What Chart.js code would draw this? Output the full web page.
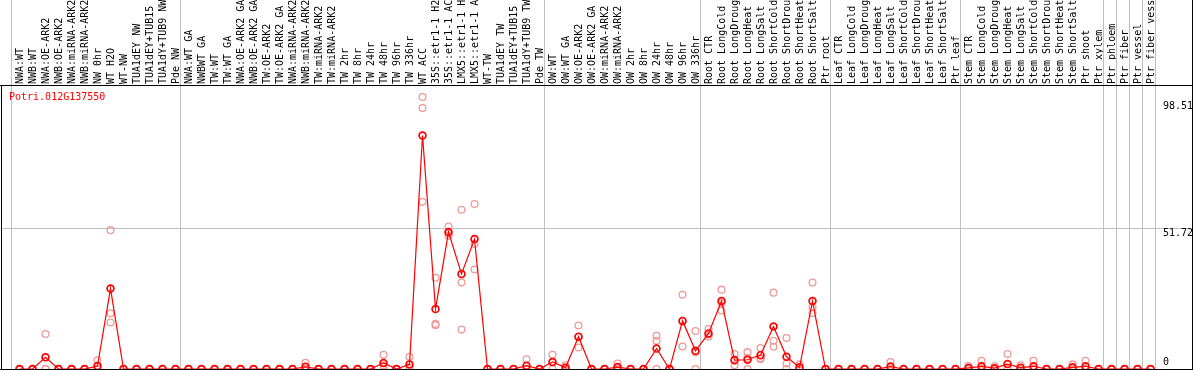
<!DOCTYPE html>
<html>
<head>
<meta charset="utf-8">
<script src="https://cdn.jsdelivr.net/npm/chart.js@4.4.1/dist/chart.umd.min.js"></script>
<style>
  html, body { margin:0; padding:0; background:#fff; }
  canvas { display:block; }
</style>
</head>
<body>
<canvas id="chart" width="1194" height="370"></canvas>
<script>
/* ---------- data ---------- */

const geneId = "Potri.012G137550";

const samples = [
  "NWA:WT","NWB:WT","NWA:OE-ARK2","NWB:OE-ARK2","NWA:miRNA-ARK2","NWB:miRNA-ARK2","NW 0hr","WT H2O","WT-NW","TUA1dEY NW","TUA1dEY+TUB15 NW","TUA1dY+TUB9 NW","Pde NW",
  "NWA:WT GA","NWBWT GA","TW:WT","TW:WT GA","NWA:OE-ARK2 GA","NWB:OE-ARK2 GA","TW:OE-ARK2","TW:OE-ARK2 GA","NWA:miRNA-ARK2","NWB:miRNA-ARK2","TW:miRNA-ARK2","TW:miRNA-ARK2","TW 2hr","TW 8hr","TW 24hr","TW 48hr","TW 96hr","TW 336hr","WT ACC","35S::etr1-1 H2O","35S::etr1-1 ACC","LMX5::etr1-1 H2O","LMX5::etr1-1 ACC","WT-TW","TUA1dEY TW","TUA1dEY+TUB15 TW","TUA1dY+TUB9 TW","Pde TW",
  "OW:WT","OW:WT GA","OW:OE-ARK2","OW:OE-ARK2 GA","OW:miRNA-ARK2","OW:miRNA-ARK2","OW 2hr","OW 8hr","OW 24hr","OW 48hr","OW 96hr","OW 336hr",
  "Root CTR","Root LongCold","Root LongDrought","Root LongHeat","Root LongSalt","Root ShortCold","Root ShortDrought","Root ShortHeat","Root ShortSalt","Ptr root",
  "Leaf CTR","Leaf LongCold","Leaf LongDrought","Leaf LongHeat","Leaf LongSalt","Leaf ShortCold","Leaf ShortDrought","Leaf ShortHeat","Leaf ShortSalt","Ptr leaf",
  "Stem CTR","Stem LongCold","Stem LongDrought","Stem LongHeat","Stem LongSalt","Stem ShortCold","Stem ShortDrought","Stem ShortHeat","Stem ShortSalt","Ptr shoot","Ptr xylem",
  "Ptr phloem","Ptr fiber","Ptr vessel","Ptr fiber vessel"
];

// index of first sample in each group (last one = end)
const groupStarts = [0, 13, 41, 53, 63, 73, 84, 85, 86, 87, 88];

const yTicks = [0, 51.72, 98.51];

const means = [
  0,0,4.3,0,0,0,1.1,29.6,0,0,0,0,0,
  0,0,0,0,0,0,0,0,
  0,0.8,0,0,0,0,0,2.2,0,1.7,
  85.9,22.1,50.4,35.0,47.8,0,0,0,1.2,0,
  2.6,0.5,11.9,0,0,0.7,0,0,7.5,0,17.7,6.7,
  13.1,25.0,3.3,3.4,5.1,15.6,4.5,0.6,25.0,0,
  0,0,0,0,0.9,0,0,0,0,0,
  0.4,1.0,0.3,1.8,0.5,1.0,0,0,0.6,1.0,0,
  0,0,0,0
];

const rep1 = [
  0,0,12.9,0,0,0,3.2,51.1,0,0,0,0,0,
  0,0,0,0,0,0,0,0,
  0,2.3,0,0,0,0,0,5.2,0,4.5,
  100.1,33.6,52.4,58.6,60.7,0,0,0,3.6,0,
  5.2,1.4,16.0,0,0,2.0,0,0,12.2,0,27.3,14.0,
  14.7,29.2,5.5,6.2,7.7,28.1,11.4,1.7,31.8,0,
  0,0,0,0,2.6,0,0,0,0,0,
  1.1,3.0,1.0,5.5,1.4,3.0,0,0,1.7,3.0,0,
  0,0,0,0
];

const rep2 = [
  0,0,0,0,0,0,0,20.5,0,0,0,0,0,
  0,0,0,0,0,0,0,0,
  0,0,0,0,0,0,0,1.4,0,0.6,
  96.0,16.6,49.8,31.8,46.0,0,0,0,0,0,
  2.6,0,11.8,0,0,0,0,0,10.4,0,17.5,6.1,
  12.7,24.3,3.0,4.0,4.0,10.4,2.0,0,22.7,0,
  0,0,0,0,0,0,0,0,0,0,
  0,0,0,0,0,0,0,0,0,0,0,
  0,0,0,0
];

const rep3 = [
  0,0,0,0,0,0,0,17.1,0,0,0,0,0,
  0,0,0,0,0,0,0,0,
  0,0,0,0,0,0,0,0,0,0,
  61.5,16.1,49.0,14.5,36.6,0,0,0,0,0,
  0,0,7.9,0,0,0,0,0,0,0,8.3,0,
  11.9,21.5,1.4,0,3.6,8.2,0,0,20.5,0,
  0,0,0,0,0,0,0,0,0,0,
  0,0,0,0,0,0,0,0,0,0,0,
  0,0,0,0
];

/* ---------- helpers ---------- */

const MONO = "'DejaVu Sans Mono', 'Liberation Mono', monospace";
const RED  = "#ff0000";
const PINK = "#f09a9a";
const GREY = "#c0c0c0";

const toPoints = arr => arr.map((v, i) => ({x: i, y: v}));

function repSet(arr){
  return {
    data: toPoints(arr),
    showLine: false,
    pointRadius: 3.4,
    pointBorderWidth: 1.3,
    pointBorderColor: PINK,
    pointBackgroundColor: "rgba(0,0,0,0)",
    order: 1
  };
}

/* ---------- frame / text plugin ---------- */

const frame = {
  id: "frame",
  beforeDatasetsDraw(chart){
    const {ctx, chartArea: a, scales: {x}} = chart;
    ctx.save();
    ctx.strokeStyle = GREY;
    ctx.lineWidth = 1;
    groupStarts.forEach(s => {
      const px = Math.round(x.getPixelForValue(s - 0.65)) + 0.5;
      ctx.beginPath();
      ctx.moveTo(px, 0);
      ctx.lineTo(px, a.bottom);
      ctx.stroke();
    });
    ctx.restore();
  },
  afterDraw(chart){
    const {ctx, chartArea: a, scales: {y}} = chart;
    ctx.save();

    // black frame
    ctx.strokeStyle = "#000";
    ctx.lineWidth = 1;
    ctx.beginPath();
    ctx.moveTo(0, a.top + 0.5);      ctx.lineTo(a.right + 1, a.top + 0.5);
    ctx.moveTo(0, a.bottom + 0.5);   ctx.lineTo(a.right + 1, a.bottom + 0.5);
    ctx.moveTo(a.left - 0.5, a.top); ctx.lineTo(a.left - 0.5, a.bottom);
    ctx.moveTo(a.right + 0.5, 0);    ctx.lineTo(a.right + 0.5, a.bottom + 1);
    ctx.stroke();

    // gene id
    ctx.font = "10px " + MONO;
    ctx.fillStyle = RED;
    ctx.textBaseline = "alphabetic";
    ctx.textAlign = "left";
    ctx.fillText(geneId, 9, 100);

    // value labels on the right
    ctx.fillStyle = "#000";
    yTicks.forEach(v => {
      const py = y.getPixelForValue(v) + (v === 0 ? -4 : 7.5);
      ctx.fillText(String(v), 1163, py);
    });

    ctx.restore();
  }
};

/* ---------- chart ---------- */

new Chart(document.getElementById("chart"), {
  type: "line",
  data: {
    datasets: [
      {
        data: toPoints(means),
        borderColor: RED,
        borderWidth: 1.2,
        tension: 0,
        pointRadius: 3.4,
        pointBorderWidth: 1.7,
        pointBorderColor: RED,
        pointBackgroundColor: "rgba(0,0,0,0)",
        order: 0
      },
      repSet(rep1),
      repSet(rep2),
      repSet(rep3)
    ]
  },
  options: {
    responsive: false,
    animation: false,
    devicePixelRatio: 1,
    events: [],
    layout: {autoPadding: false, padding: {left: 2, right: 2, top: 0, bottom: 1}},
    plugins: {legend: {display: false}, tooltip: {enabled: false}},
    scales: {
      x: {
        type: "linear",
        position: "top",
        min: -1.346,
        max: 90.19,
        afterBuildTicks: axis => { axis.ticks = samples.map((_, i) => ({value: i})); },
        afterFit: axis => { axis.height = 85; axis.paddingLeft = 0; axis.paddingRight = 0; },
        grid: {display: false, drawTicks: false},
        border: {display: false},
        ticks: {
          autoSkip: false,
          minRotation: 90,
          maxRotation: 90,
          padding: 1,
          labelOffset: 13,
          color: "#000",
          font: {family: MONO, size: 10},
          callback: (v, i) => samples[i]
        }
      },
      y: {
        position: "right",
        min: 0,
        max: 104.5,
        afterBuildTicks: axis => { axis.ticks = yTicks.map(v => ({value: v})); },
        afterFit: axis => { axis.width = 0; },
        grid: {
          drawTicks: false,
          color: c => (c.tick && c.tick.value === 51.72) ? GREY : "rgba(0,0,0,0)"
        },
        border: {display: false},
        ticks: {display: false}
      }
    }
  },
  plugins: [frame]
});
</script>
</body>
</html>
